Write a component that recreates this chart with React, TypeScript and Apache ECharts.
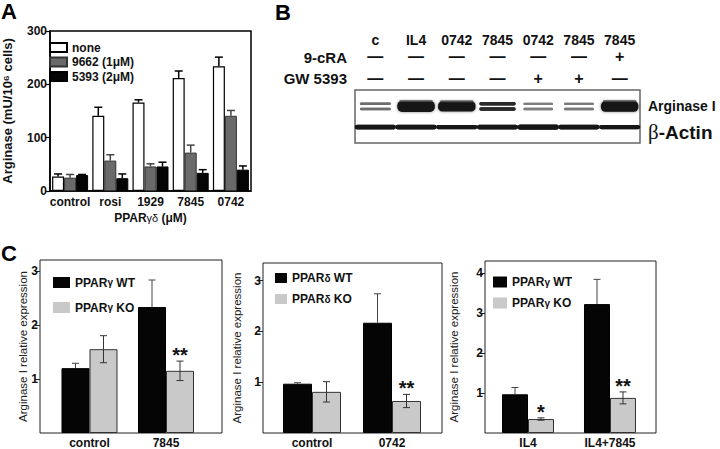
import { useEffect, useRef } from 'react';
import * as echarts from 'echarts';

const FONT = '"Liberation Sans", Arial, Helvetica, sans-serif';

// ---------- Panel A ----------
const aCategories = ['control', 'rosi', '1929', '7845', '0742'];
const aSeriesNames = ['none', '9662 (1μM)', '5393 (2μM)'];
const aNone = [27, 141, 166, 212, 234];
const aNoneErr = [5, 16, 5, 13, 17];
const a9662 = [25, 57, 46, 72, 141];
const a9662Err = [6, 11, 5, 14, 10];
const a5393 = [30, 24, 46, 34, 40];
const a5393Err = [1, 8, 8, 6, 7];
const aTicks = [0, 100, 200, 300];

// ---------- Panel B (western blot) ----------
const bLanes = ['c', 'IL4', '0742', '7845', '0742', '7845', '7845'];
const bCRA = ['—', '—', '—', '—', '—', '—', '+'];
const bGW = ['—', '—', '—', '—', '+', '+', '—'];
const bRows = ['β-Actin', 'Arginase I'];
const bArginase = [0.35, 1.0, 0.9, 0.65, 0.28, 0.3, 0.95];
const bActin = [0.7, 0.7, 0.55, 0.8, 0.9, 0.75, 0.6];

// ---------- Panel C ----------
const c1Groups = ['control', '7845'];
const c1WT = [1.2, 2.33];
const c1WTErr = [0.09, 0.5];
const c1KO = [1.55, 1.15];
const c1KOErr = [0.25, 0.18];
const c1Sig = ['', '**'];
const c1Ticks = [1, 2, 3];

const c2Groups = ['control', '0742'];
const c2WT = [0.97, 2.17];
const c2WTErr = [0.02, 0.57];
const c2KO = [0.81, 0.63];
const c2KOErr = [0.2, 0.13];
const c2Sig = ['', '**'];
const c2Ticks = [1, 2, 3];

const c3Groups = ['IL4', 'IL4+7845'];
const c3WT = [0.97, 3.23];
const c3WTErr = [0.17, 0.62];
const c3KO = [0.35, 0.88];
const c3KOErr = [0.03, 0.15];
const c3Sig = ['*', '**'];
const c3Ticks = [1, 2, 3, 4];

const yTitleC = 'Arginase I relative expression';

function errorBars(cfg: any) {
  const { xAxisIndex, yAxisIndex, xs, values, errs, offset, color, capW, lineW, both, sig } = cfg;
  return {
    type: 'custom',
    xAxisIndex,
    yAxisIndex,
    silent: true,
    z: 5,
    data: values.map((v: number, i: number) => [xs[i], v, errs[i]]),
    encode: { x: 0, y: 1 },
    renderItem: (params: any, api: any) => {
      const x = api.value(0);
      const v = api.value(1);
      const e = api.value(2);
      const p = api.coord([x, v]);
      const t = api.coord([x, v + e]);
      const b = api.coord([x, v - e]);
      const cx = p[0] + offset;
      const y0 = both ? b[1] : p[1];
      const ls = { stroke: color, lineWidth: lineW };
      const children: any[] = [
        { type: 'line', shape: { x1: cx, y1: y0, x2: cx, y2: t[1] }, style: ls },
        { type: 'line', shape: { x1: cx - capW / 2, y1: t[1], x2: cx + capW / 2, y2: t[1] }, style: ls },
      ];
      if (both) {
        children.push({ type: 'line', shape: { x1: cx - capW / 2, y1: b[1], x2: cx + capW / 2, y2: b[1] }, style: ls });
      }
      const s = sig ? sig[params.dataIndex] : '';
      if (s) {
        children.push({
          type: 'text',
          x: cx,
          y: t[1] - 6,
          style: {
            text: s, fill: '#111', fontSize: 20, fontWeight: 'bold', fontFamily: FONT,
            align: 'center', verticalAlign: 'middle',
          },
        });
      }
      return { type: 'group', children };
    },
  };
}

const greek = (name: string) => name.replace(/([γδ]+)/, '{g|$1}');

function cPanel(idx: number, cfg: any) {
  const gi = idx + 2;
  const xi = idx + 4;
  const yi = idx + 2;
  const xAxis = {
    gridIndex: gi,
    type: 'value',
    min: cfg.xMin,
    max: cfg.xMax,
    axisLine: { show: false },
    axisTick: { show: false },
    splitLine: { show: false },
    axisLabel: {
      customValues: [1, 2],
      formatter: (v: number) => cfg.groups[Math.round(v) - 1] ?? '',
      margin: 4,
      color: '#111',
      fontSize: 12,
      fontWeight: 'bold',
      fontFamily: FONT,
    },
  };
  const yAxis = {
    gridIndex: gi,
    type: 'value',
    min: 0,
    max: cfg.yMax,
    axisLine: { show: false },
    splitLine: { show: false },
    axisTick: { show: true, customValues: cfg.ticks, length: 5, lineStyle: { color: '#222', width: 1 } },
    axisLabel: { customValues: cfg.ticks, margin: 2, color: '#111', fontSize: 12, fontWeight: 'bold', fontFamily: FONT },
    name: yTitleC,
    nameLocation: 'middle',
    nameGap: cfg.nameGap,
    nameMoveOverlap: false,
    nameTextStyle: { fontSize: 11.5, color: '#222', fontFamily: FONT },
  };
  const xs = cfg.groups.map((_: string, i: number) => i + 1);
  const bw = cfg.barW;
  const series = [
    {
      type: 'bar', name: cfg.wtName, xAxisIndex: xi, yAxisIndex: yi,
      barWidth: bw, barGap: '0%',
      itemStyle: { color: '#050505', borderColor: '#000', borderWidth: 1 },
      data: cfg.wt.map((v: number, i: number) => [xs[i], v]),
    },
    {
      type: 'bar', name: cfg.koName, xAxisIndex: xi, yAxisIndex: yi,
      barWidth: bw, barGap: '0%',
      itemStyle: { color: '#c9c9c9', borderColor: '#333', borderWidth: 1 },
      data: cfg.ko.map((v: number, i: number) => [xs[i], v]),
    },
    errorBars({ xAxisIndex: xi, yAxisIndex: yi, xs, values: cfg.wt, errs: cfg.wtErr, offset: -bw / 2, color: '#444', capW: 7, lineW: 1, both: false }),
    errorBars({ xAxisIndex: xi, yAxisIndex: yi, xs, values: cfg.ko, errs: cfg.koErr, offset: bw / 2, color: '#333', capW: 7, lineW: 1, both: true, sig: cfg.sig }),
  ];
  const legend = {
    orient: 'vertical',
    left: cfg.legendLeft,
    top: cfg.legendTop,
    padding: 0,
    icon: 'rect',
    itemWidth: cfg.legendIconW,
    itemHeight: cfg.legendIconH,
    itemGap: cfg.legendGap,
    itemStyle: { borderWidth: 0 },
    data: [cfg.wtName, cfg.koName],
    formatter: greek,
    textStyle: {
      fontSize: 12, fontWeight: 'bold', color: '#111', fontFamily: FONT,
      rich: { g: { fontSize: 10, fontWeight: 'bold', fontFamily: FONT, color: '#111' } },
    },
  };
  const grid = { show: true, borderColor: '#222', borderWidth: 1, ...cfg.grid };
  return { xAxis, yAxis, series, legend, grid };
}

export default function App() {
  const ref = useRef<HTMLDivElement>(null);

  useEffect(() => {
    if (!ref.current) return;
    const chart = echarts.init(ref.current, undefined, { renderer: 'svg' });

    const aBarW = 12;
    const aStyles = [
      { color: '#ffffff', borderColor: '#000', borderWidth: 1.2 },
      { color: '#6a6a6a', borderColor: '#333', borderWidth: 1 },
      { color: '#050505', borderColor: '#000', borderWidth: 1 },
    ];
    const aVals = [aNone, a9662, a5393];
    const aErrs = [aNoneErr, a9662Err, a5393Err];
    const aErrColors = ['#000', '#444', '#000'];
    const aIdx = aCategories.map((_, i) => i);

    const aSeries: any[] = [];
    aVals.forEach((vals, k) => {
      aSeries.push({
        type: 'bar', name: aSeriesNames[k], xAxisIndex: 0, yAxisIndex: 0,
        barWidth: aBarW, barGap: '0%', itemStyle: aStyles[k], data: vals,
      });
    });
    aVals.forEach((vals, k) => {
      aSeries.push(errorBars({
        xAxisIndex: 0, yAxisIndex: 0, xs: aIdx, values: vals, errs: aErrs[k],
        offset: (k - 1) * aBarW, color: aErrColors[k], capW: 8, lineW: 1.5, both: false,
      }));
    });

    const blotData = [
      ...bArginase.map((v, i) => [i, 1, v]),
      ...bActin.map((v, i) => [i, 0, v]),
    ];
    const blotSeries = {
      type: 'custom',
      xAxisIndex: 1,
      yAxisIndex: 1,
      silent: true,
      data: blotData,
      encode: { x: 0, y: 1 },
      renderItem: (_params: any, api: any) => {
        const lane = api.value(0);
        const row = api.value(1);
        const inten = api.value(2);
        const c = api.coord([lane, row]);
        const sz = api.size([1, 1]);
        if (row === 1) {
          const cy = c[1] + sz[1] * 0.12;
          if (inten >= 0.8) {
            const w = sz[0] * 0.92;
            const h = 4 + 7 * inten;
            return {
              type: 'group',
              children: [
                {
                  type: 'rect',
                  shape: { x: c[0] - w / 2, y: cy - h / 2, width: w, height: h, r: h / 2.4 },
                  style: { fill: '#141414', shadowBlur: 3, shadowColor: 'rgba(0,0,0,0.5)' },
                },
                {
                  type: 'rect',
                  shape: { x: c[0] - w / 2 + 2, y: cy - h / 2 - 1, width: w - 4, height: 2, r: 1 },
                  style: { fill: '#555', opacity: 0.8 },
                },
              ],
            };
          }
          const w = sz[0] * (0.6 + 0.45 * inten);
          const t = 1.5 + 3 * inten;
          const g = Math.max(20, Math.round(190 - 230 * inten));
          const col = `rgb(${g},${g},${g})`;
          return {
            type: 'group',
            children: [-2.6, 2.6].map((d) => ({
              type: 'rect',
              shape: { x: c[0] - w / 2, y: cy + d - t / 2, width: w, height: t, r: t / 2 },
              style: { fill: col, shadowBlur: 1.5, shadowColor: col },
            })),
          };
        }
        const cy = c[1] - sz[1] * 0.1;
        const w = sz[0] + 0.5;
        const h = 2.5 + 3 * inten;
        return {
          type: 'rect',
          shape: { x: c[0] - w / 2, y: cy - h / 2, width: w, height: h, r: h / 2 },
          style: { fill: '#161616', shadowBlur: 1.5, shadowColor: 'rgba(0,0,0,0.6)' },
        };
      },
    };

    const blotAxisLabel = (fontSize: number) => ({
      interval: 0, margin: 0, color: '#111', fontSize, fontWeight: 'bold', fontFamily: FONT,
    });
    const blotXAxes = [
      {
        gridIndex: 1, type: 'category', data: bLanes, position: 'top', offset: 43,
        axisLine: { show: false }, axisTick: { show: false }, axisLabel: blotAxisLabel(14),
      },
      {
        gridIndex: 1, type: 'category', data: bCRA, position: 'top', offset: 25.5,
        axisLine: { show: false }, axisTick: { show: false }, axisLabel: blotAxisLabel(16),
        name: '9-cRA', nameLocation: 'start', nameGap: 8, nameMoveOverlap: false,
        nameTextStyle: { fontSize: 15, fontWeight: 'bold', color: '#111', fontFamily: FONT, align: 'right', verticalAlign: 'bottom' },
      },
      {
        gridIndex: 1, type: 'category', data: bGW, position: 'top', offset: 4,
        axisLine: { show: false }, axisTick: { show: false }, axisLabel: blotAxisLabel(16),
        name: 'GW 5393', nameLocation: 'start', nameGap: 8, nameMoveOverlap: false,
        nameTextStyle: { fontSize: 15, fontWeight: 'bold', color: '#111', fontFamily: FONT, align: 'right', verticalAlign: 'bottom' },
      },
    ];

    const c1 = cPanel(0, {
      groups: c1Groups, wt: c1WT, wtErr: c1WTErr, ko: c1KO, koErr: c1KOErr, sig: c1Sig, ticks: c1Ticks,
      wtName: 'PPARγ WT', koName: 'PPARγ KO',
      xMin: 0.353, xMax: 2.732, yMax: 3.2, barW: 28, nameGap: 11,
      grid: { left: 40, top: 260, width: 182, height: 173 },
      legendLeft: 53, legendTop: 276.5, legendIconW: 17, legendIconH: 11, legendGap: 13,
    });
    const c2 = cPanel(1, {
      groups: c2Groups, wt: c2WT, wtErr: c2WTErr, ko: c2KO, koErr: c2KOErr, sig: c2Sig, ticks: c2Ticks,
      wtName: 'PPARδ WT', koName: 'PPARδ KO',
      xMin: 0.3875, xMax: 2.625, yMax: 3.346, barW: 29, nameGap: 20,
      grid: { left: 263, top: 263, width: 179, height: 172 },
      legendLeft: 275, legendTop: 272, legendIconW: 12, legendIconH: 10, legendGap: 9,
    });
    const c3 = cPanel(2, {
      groups: c3Groups, wt: c3WT, wtErr: c3WTErr, ko: c3KO, koErr: c3KOErr, sig: c3Sig, ticks: c3Ticks,
      wtName: 'PPARγ WT', koName: 'PPARγ KO',
      xMin: 0.4756, xMax: 2.561, yMax: 4.31, barW: 26, nameGap: 25,
      grid: { left: 485, top: 261, width: 171, height: 172 },
      legendLeft: 493, legendTop: 276, legendIconW: 14, legendIconH: 11, legendGap: 9,
    });

    const letter = (t: string, x: number, y: number) => ({
      type: 'text', x, y, silent: true,
      style: { text: t, fill: '#000', fontSize: 22, fontWeight: 'bold', fontFamily: FONT, align: 'left', verticalAlign: 'middle' },
    });

    const option: any = {
      animation: false,
      backgroundColor: '#ffffff',
      textStyle: { fontFamily: FONT },
      graphic: [letter('A', 1, 11), letter('B', 275, 12), letter('C', 1, 253)],
      legend: [
        {
          orient: 'vertical', left: 49, top: 41.5, padding: 0, icon: 'rect',
          itemWidth: 17, itemHeight: 9, itemGap: 2.5,
          data: aSeriesNames,
          textStyle: { fontSize: 12, fontWeight: 'bold', color: '#111', fontFamily: FONT },
        },
        c1.legend, c2.legend, c3.legend,
      ],
      grid: [
        { left: 40, top: 31, width: 211, height: 160, show: true, borderColor: '#000', borderWidth: 1.5 },
        { left: 355, top: 90, width: 285, height: 53, show: true, borderColor: '#666', borderWidth: 1.5 },
        c1.grid, c2.grid, c3.grid,
      ],
      xAxis: [
        {
          gridIndex: 0, type: 'category', data: aCategories,
          axisLine: { show: true, lineStyle: { color: '#000', width: 1.5 } },
          axisTick: { show: false },
          axisLabel: { interval: 0, margin: 5, color: '#111', fontSize: 12, fontWeight: 'bold', fontFamily: FONT },
          name: 'PPAR{g|γδ} (μM)', nameLocation: 'middle', nameGap: 21, nameMoveOverlap: false,
          nameTextStyle: {
            fontSize: 12, fontWeight: 'bold', color: '#111', fontFamily: FONT,
            rich: { g: { fontSize: 11, fontWeight: 'normal', color: '#111', fontFamily: FONT } },
          },
        },
        ...blotXAxes,
        c1.xAxis, c2.xAxis, c3.xAxis,
      ],
      yAxis: [
        {
          gridIndex: 0, type: 'value', min: 0, max: 300,
          axisLine: { show: true, lineStyle: { color: '#000', width: 1.5 } },
          axisTick: { show: true, customValues: aTicks, length: 4, lineStyle: { color: '#000', width: 1.2 } },
          axisLabel: { show: true, customValues: aTicks, margin: 3, color: '#111', fontSize: 12, fontWeight: 'bold', fontFamily: FONT },
          splitLine: { show: false },
          name: 'Arginase (mU/10⁶ cells)', nameLocation: 'middle', nameGap: 36, nameMoveOverlap: false,
          nameTextStyle: { fontSize: 13, fontWeight: 'bold', color: '#111', fontFamily: FONT },
        },
        {
          gridIndex: 1, type: 'category', data: bRows, position: 'right',
          axisLine: { show: false }, axisTick: { show: false }, splitLine: { show: false },
          axisLabel: {
            margin: 8,
            formatter: (v: string) => (v === 'Arginase I' ? '{arg|Arginase I}' : '{beta|β}{act|-Actin}'),
            rich: {
              arg: { fontSize: 14, fontWeight: 'bold', color: '#111', fontFamily: FONT, padding: [6, 0, 0, 0] },
              beta: { fontSize: 21, fontWeight: 'normal', color: '#111', fontFamily: '"Liberation Serif", "Times New Roman", serif', padding: [5, 0, 0, 0] },
              act: { fontSize: 19, fontWeight: 'bold', color: '#111', fontFamily: FONT, padding: [5, 0, 0, 0] },
            },
          },
        },
        c1.yAxis, c2.yAxis, c3.yAxis,
      ],
      series: [...aSeries, blotSeries, ...c1.series, ...c2.series, ...c3.series],
    };

    chart.setOption(option);
    return () => {
      chart.dispose();
    };
  }, []);

  return (
    <div
      ref={ref}
      style={{ position: 'fixed', left: 0, top: 0, width: 720, height: 449, background: '#fff' }}
    />
  );
}
